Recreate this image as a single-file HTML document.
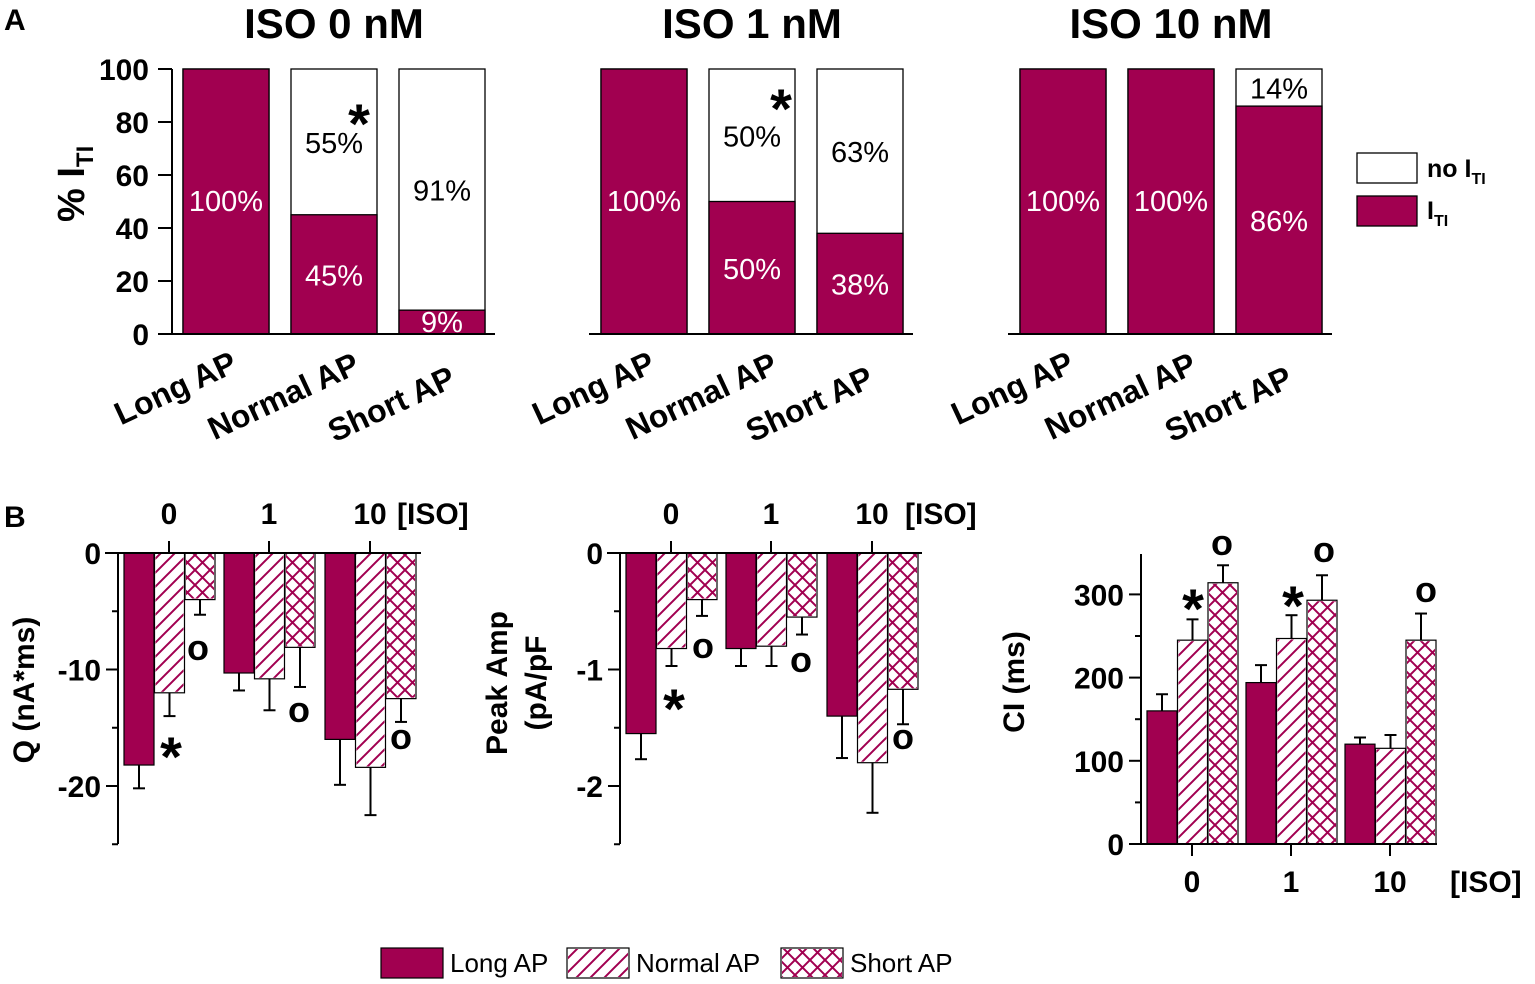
<!DOCTYPE html>
<html><head><meta charset="utf-8"><style>
body{margin:0;background:#fff;}
svg{display:block;font-family:"Liberation Sans",Arial,sans-serif;}
</style></head><body>
<svg id="fig" width="1535" height="984" viewBox="0 0 1535 984">
<defs>
<pattern id="diag" patternUnits="userSpaceOnUse" width="14" height="14">
<path d="M-2,16 L16,-2 M-9,9 L9,-9 M5,23 L23,5" stroke="#A10050" stroke-width="2"/>
</pattern>
<pattern id="cross" patternUnits="userSpaceOnUse" width="15" height="15">
<path d="M0,0 L15,15 M15,0 L0,15" stroke="#A10050" stroke-width="2"/>
</pattern>
</defs>
<g id="A"></g><g id="B"></g>
</svg>
<script>
const COLOR = '#A10050';
const aTitles = ['ISO 0 nM','ISO 1 nM','ISO 10 nM'];
const aCategories = ['Long AP','Normal AP','Short AP'];
const aITI = [[100,45,9],[100,50,38],[100,100,86]];
const aNoITILabels = [['','55%','91%'],['','50%','63%'],['','','14%']];
const aTicks = [0,20,40,60,80,100];

const bGroups = ['0','1','10'];
const qLong = [-18.2,-10.3,-16], qNormal = [-12,-10.8,-18.4], qShort = [-4,-8.1,-12.5];
const qLongErr = [2,1.5,3.9], qNormalErr = [2,2.7,4.1], qShortErr = [1.3,3.4,2];
const qTicks = [0,-10,-20];
const pLong = [-1.55,-0.82,-1.4], pNormal = [-0.82,-0.8,-1.8], pShort = [-0.4,-0.55,-1.17];
const pLongErr = [0.22,0.15,0.36], pNormalErr = [0.15,0.17,0.43], pShortErr = [0.14,0.15,0.3];
const pTicks = [0,-1,-2];
const ciLong = [160,194,120], ciNormal = [245,247,115], ciShort = [314,293,245];
const ciLongErr = [20,21,8], ciNormalErr = [25,28,16], ciShortErr = [21,30,32];
const ciTicks = [0,100,200,300];

const NS='http://www.w3.org/2000/svg';
function mk(parent, tag, attrs, text){
  const e=document.createElementNS(NS,tag);
  for(const k in attrs) e.setAttribute(k,attrs[k]);
  if(text!==undefined) e.textContent=text;
  parent.appendChild(e); return e;
}
const A=document.getElementById('A');
const B=document.getElementById('B');
let t;
t=mk(A,'text',{x:4,y:30,'font-size':30,'font-weight':'bold'},'A');


t=mk(B,'text',{x:4,y:527,'font-size':30,'font-weight':'bold'},'B');



// Panel A
const aX0=[183,601,1020], step=108, bw=86;
const yA = v => 334 - v*2.65;
aTitles.forEach((title,ci)=>{
  const g=mk(A,'g',{});
  
  
  const cx=aX0[ci]+step+bw/2;
  t=mk(g,'text',{x:cx,y:38,'font-size':42,'font-weight':'bold','text-anchor':'middle'},title);
  
  
  aCategories.forEach((cat,i)=>{
    const x=aX0[ci]+i*step, v=aITI[ci][i];
    let r=mk(g,'rect',{x:x,y:yA(100),width:bw,height:yA(0)-yA(100),fill:'#fff',stroke:'#000','stroke-width':1.3});
    
    
    r=mk(g,'rect',{x:x,y:yA(v),width:bw,height:yA(0)-yA(v),fill:COLOR,stroke:'#000','stroke-width':1.3});
    
    
    t=mk(g,'text',{x:x+bw/2,y:v>=100?211:Math.min(yA(v/2)+11,332),'font-size':29,fill:'#fff','text-anchor':'middle'},v+'%');
    
    
    if(v<100){
      t=mk(g,'text',{x:x+bw/2,y:(yA(100)+yA(v))/2+11,'font-size':29,fill:'#000','text-anchor':'middle'},aNoITILabels[ci][i]);
      
      
    }
    t=mk(g,'text',{x:0,y:0,'font-size':32,'font-weight':'bold','text-anchor':'middle',transform:`translate(${x+bw/2-46},${398+i*8}) rotate(-25)`},cat);
    
    
  });
  let l=mk(g,'line',{x1:aX0[ci]-(ci==0?25:12),x2:aX0[ci]+2*step+bw+10,y1:334,y2:334,stroke:'#000','stroke-width':2});
  
  
});
// star annotations
[[359,143],[781,128]].forEach(p=>{
  t=mk(A,'text',{x:p[0],y:p[1],'font-size':56,'font-weight':'bold','text-anchor':'middle'},'*');
  
  
});
// y axis A
let ax=mk(A,'line',{x1:172,x2:172,y1:yA(100),y2:334,stroke:'#000','stroke-width':2});


aTicks.forEach(v=>{
  mk(A,'line',{x1:158,x2:172,y1:yA(v),y2:yA(v),stroke:'#000','stroke-width':2});
  t=mk(A,'text',{x:149,y:yA(v)+11,'font-size':30,'font-weight':'bold','text-anchor':'end'},v);
  
  
});
t=mk(A,'text',{x:0,y:0,'font-size':38,'font-weight':'bold',transform:'translate(84,222) rotate(-90)'});
t.innerHTML='% I<tspan font-size="24" dy="9">TI</tspan>';


// legend A
let r=mk(A,'rect',{x:1357,y:153,width:60,height:30,fill:'#fff',stroke:'#000','stroke-width':1.3});

r=mk(A,'rect',{x:1357,y:196,width:60,height:30,fill:COLOR,stroke:'#000','stroke-width':1.3});

t=mk(A,'text',{x:1427,y:177,'font-size':25,'font-weight':'bold'});t.innerHTML='no I<tspan font-size="16" dy="7">TI</tspan>';

t=mk(A,'text',{x:1427,y:219,'font-size':25,'font-weight':'bold'});t.innerHTML='I<tspan font-size="16" dy="7">TI</tspan>';


// Panel B
function barChart(cfg){
  const g=mk(B,'g',{});
  
  
  const y=v=>cfg.y0 + v*cfg.scale;
  const fills=[COLOR,'url(#diag)','url(#cross)'];
  const series=[cfg.long,cfg.normal,cfg.short], errs=[cfg.longErr,cfg.normalErr,cfg.shortErr];
  const ax=mk(g,'line',{x1:cfg.axisX,x2:cfg.axisX,y1:cfg.axisY1,y2:cfg.axisY2,stroke:'#000','stroke-width':2});
  
  cfg.minor.forEach(v=>mk(g,'line',{x1:cfg.axisX-6,x2:cfg.axisX,y1:y(v),y2:y(v),stroke:'#000','stroke-width':2}));
  cfg.ticks.forEach(v=>{
    mk(g,'line',{x1:cfg.axisX-12,x2:cfg.axisX,y1:y(v),y2:y(v),stroke:'#000','stroke-width':2});
    const tt=mk(g,'text',{x:cfg.axisX-17,y:y(v)+11,'font-size':30,'font-weight':'bold','text-anchor':'end'},v);
    
  });
  bGroups.forEach((gname,gi)=>{
    const c=cfg.centers[gi];
    series.forEach((s,si)=>{
      const x=c-45+si*30.5, v=s[gi], e=errs[si][gi];
      const top=Math.min(y(0),y(v)), h=Math.abs(y(v)-y(0));
      const rr=mk(g,'rect',{x:x,y:top,width:30,height:h,fill:si==0?COLOR:'#fff',stroke:'#000','stroke-width':1.2});
      
      
      if(si>0){ const hp=mk(g,'rect',{x:x+1,y:top+1,width:28,height:Math.max(h-2,0),fill:fills[si]});  }
      const sgn=v<0?-1:1, ye=y(v+sgn*e);
      mk(g,'line',{x1:x+15,x2:x+15,y1:y(v),y2:ye,stroke:'#000','stroke-width':2});
      mk(g,'line',{x1:x+9,x2:x+21,y1:ye,y2:ye,stroke:'#000','stroke-width':2});
    });
    mk(g,'line',{x1:c,x2:c,y1:cfg.xAxisY,y2:cfg.xAxisY+cfg.tickDir*12,stroke:'#000','stroke-width':2});
    const tt=mk(g,'text',{x:c,y:cfg.labelY,'font-size':30,'font-weight':'bold','text-anchor':'middle'},gname);
    
  });
  const xa=mk(g,'line',{x1:cfg.xAxisX1,x2:cfg.xAxisX2,y1:cfg.xAxisY,y2:cfg.xAxisY,stroke:'#000','stroke-width':2});
  
  const iso=mk(g,'text',{x:cfg.isoX,y:cfg.labelY,'font-size':30,'font-weight':'bold'},'[ISO]');
  
  cfg.marks.forEach(m=>{
    const mt=mk(g,'text',{x:m[0],y:m[1],'font-size':m[2]=='*'?56:36,'font-weight':'bold','text-anchor':'middle'},m[2]);
    
  });
  cfg.title.forEach(tl=>{
    const tt=mk(g,'text',{x:0,y:0,'font-size':30,'font-weight':'bold','text-anchor':'middle',transform:`translate(${tl[0]},${tl[1]}) rotate(-90)`},tl[2]);
    
  });
}
barChart({name:'charge-chart',y0:553,scale:-11.65,long:qLong,normal:qNormal,short:qShort,longErr:qLongErr,normalErr:qNormalErr,shortErr:qShortErr,
  ticks:qTicks,minor:[-5,-15,-25],axisX:118,axisY1:553,axisY2:844,centers:[169,269,370],xAxisY:553,xAxisX1:105,xAxisX2:421,tickDir:-1,labelY:524,isoX:397,
  marks:[[171,776,'*'],[198,660,'o'],[299,722,'o'],[401,749,'o']],title:[[34,690,'Q (nA*ms)']]});
barChart({name:'peak-amp-chart',y0:553,scale:-116.5,long:pLong,normal:pNormal,short:pShort,longErr:pLongErr,normalErr:pNormalErr,shortErr:pShortErr,
  ticks:pTicks,minor:[-0.5,-1.5,-2.5],axisX:620,axisY1:553,axisY2:844,centers:[671,771,872],xAxisY:553,xAxisX1:607,xAxisX2:922,tickDir:-1,labelY:524,isoX:905,
  marks:[[674,728,'*'],[703,658,'o'],[801,672,'o'],[903,749,'o']],title:[[507,683,'Peak Amp'],[546,683,'(pA/pF']]});
barChart({name:'ci-chart',y0:844,scale:-0.832,long:ciLong,normal:ciNormal,short:ciShort,longErr:ciLongErr,normalErr:ciNormalErr,shortErr:ciShortErr,
  ticks:ciTicks,minor:[50,150,250],axisX:1141,axisY1:554,axisY2:844,centers:[1192,1291,1390],xAxisY:844,xAxisX1:1129,xAxisX2:1437,tickDir:1,labelY:892,isoX:1450,
  marks:[[1193,628,'*'],[1222,555,'o'],[1293,625,'*'],[1324,562,'o'],[1426,602,'o']],title:[[1024,682,'CI (ms)']]});

// bottom legend
const legNames=['Long AP','Normal AP','Short AP'], legX=[381,567,781], legFill=[COLOR,'url(#diag)','url(#cross)'];
legNames.forEach((n,i)=>{
  const sw=mk(B,'rect',{x:legX[i],y:948,width:62,height:30,fill:i==0?COLOR:'#fff',stroke:'#000','stroke-width':1.2});
  
  if(i>0) mk(B,'rect',{x:legX[i]+1,y:949,width:60,height:28,fill:legFill[i]});
  const lt=mk(B,'text',{x:legX[i]+69,y:972,'font-size':26},n);
  
});
</script>
</body></html>
